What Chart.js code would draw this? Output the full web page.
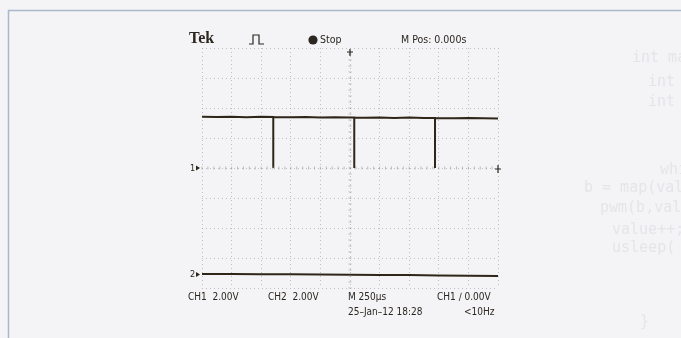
<!DOCTYPE html>
<html>
<head>
<meta charset="utf-8">
<script src="https://cdn.jsdelivr.net/npm/chart.js@4.4.1/dist/chart.umd.min.js"></script>
<style>
  html, body { margin: 0; padding: 0; background: #f4f4f6; }
  #wrap { width: 681px; height: 338px; position: relative; }
</style>
</head>
<body>
<div id="wrap"><canvas id="scope"></canvas></div>
<script>
// scope settings
const voltsPerDiv = [2.0, 2.0];      // CH1, CH2
const usPerDiv = 250;
const ch1Offset = 0;                 // divisions from centre
const ch2Offset = -3.55;

// CH1 trace (time in us, volts)
const ch1Time  = [-1250, -1125, -1000, -875, -750, -648, -648, -648, -500, -375, -250, -125, 0, 36, 36, 36, 125, 250, 375, 500, 625, 718, 718, 718, 875, 1000, 1125, 1250];
const ch1Volts = [3.42, 3.40, 3.42, 3.39, 3.41, 3.40, 0.0, 3.40, 3.38, 3.40, 3.37, 3.39, 3.36, 3.37, 0.0, 3.37, 3.35, 3.37, 3.34, 3.36, 3.33, 3.34, 0.0, 3.34, 3.32, 3.33, 3.31, 3.30];

// CH2 trace
const ch2Time  = [-1250, -1000, -750, -500, -250, 0, 250, 500, 750, 1000, 1250];
const ch2Volts = [0.04, 0.03, 0.02, 0.01, 0.0, -0.01, -0.03, -0.04, -0.06, -0.08, -0.10];

// readout texts
const topLabels = ['Tek', 'Stop', 'M Pos: 0.000s'];
const bottomRow1 = ['CH1  2.00V', 'CH2  2.00V', 'M 250\u00b5s', 'CH1 \u2215 0.00V'];
const bottomRow2 = ['25\u2013Jan\u201312 18:28', '<10Hz'];
const bleedLines = ['int main()', 'int value', 'int b;', 'while(1){', 'b = map(value,', 'pwm(b,value);', 'value++;', 'usleep(', '}'];

const toPoints = (t, v, vpd, off) => t.map((x, i) => ({ x: x, y: v[i] / vpd + off }));

const narrow = '"Liberation Sans Narrow", "DejaVu Sans Condensed", "Arial Narrow", sans-serif';
const ink = '#2b2620';

const scopeDecor = {
    id: 'scopeDecor',
    beforeDraw(chart) {
        const c = chart.ctx;
        c.save();
        c.fillStyle = '#f4f4f6';
        c.fillRect(0, 0, chart.width, chart.height);
        // faint bleed-through text from the other page
        c.fillStyle = 'rgba(170,170,180,0.2)';
        c.font = '15px "DejaVu Sans Mono", monospace';
        const bx = [632, 648, 648, 660, 584, 600, 612, 612, 640];
        const by = [62, 86, 106, 174, 192, 212, 234, 252, 326];
        bleedLines.forEach((s, i) => c.fillText(s, bx[i], by[i]));
        // page frame
        c.strokeStyle = '#a9b9cc';
        c.lineWidth = 1.5;
        c.beginPath();
        c.moveTo(8.5, 338);
        c.lineTo(8.5, 10.5);
        c.lineTo(681, 10.5);
        c.stroke();
        c.restore();
    },
    afterDraw(chart) {
        const c = chart.ctx;
        const a = chart.chartArea;
        const xs = chart.scales.x, ys = chart.scales.y;
        c.save();
        // minor ticks on centre lines
        c.strokeStyle = 'rgba(150,150,155,0.6)';
        c.lineWidth = 1;
        const cx = xs.getPixelForValue(0), cy = ys.getPixelForValue(0);
        c.beginPath();
        for (let d = -5; d <= 5; d += 0.2) {
            const px = xs.getPixelForValue(d * usPerDiv);
            c.moveTo(px, cy - 1.5); c.lineTo(px, cy + 1.5);
        }
        for (let d = -4; d <= 4; d += 0.2) {
            const py = ys.getPixelForValue(d);
            c.moveTo(cx - 1.5, py); c.lineTo(cx + 1.5, py);
        }
        c.stroke();

        c.fillStyle = ink;
        c.strokeStyle = ink;
        c.textBaseline = 'middle';
        // top row
        c.font = 'bold 16px "Liberation Serif", serif';
        c.fillText(topLabels[0], 189, 39);
        c.lineWidth = 1.2;
        c.beginPath();
        c.moveTo(249, 44); c.lineTo(253, 44); c.lineTo(253, 35); c.lineTo(259, 35);
        c.lineTo(259, 44); c.lineTo(264, 44);
        c.stroke();
        c.beginPath();
        c.arc(313, 40, 4.6, 0, Math.PI * 2);
        c.fill();
        c.font = '10.5px ' + narrow;
        c.fillText(topLabels[1], 320, 40);
        c.fillText(topLabels[2], 401, 40);

        // bottom readouts
        c.font = '10px ' + narrow;
        c.fillText(bottomRow1[0], 188, 297);
        c.fillText(bottomRow1[1], 268, 297);
        c.fillText(bottomRow1[2], 348, 297);
        c.fillText(bottomRow1[3], 437, 297);
        c.fillText(bottomRow2[0], 348, 312);
        c.fillText(bottomRow2[1], 464, 312);

        // channel ground markers
        c.font = '9px ' + narrow;
        const m1 = ys.getPixelForValue(ch1Offset), m2 = ys.getPixelForValue(ch2Offset);
        c.fillText('1', 190, m1 + 1);
        c.fillText('2', 190, m2);
        c.beginPath();
        c.moveTo(196, m1 - 2.5); c.lineTo(200, m1); c.lineTo(196, m1 + 2.5); c.closePath();
        c.moveTo(196, m2 - 2.5); c.lineTo(200, m2); c.lineTo(196, m2 + 2.5); c.closePath();
        c.fill();
        // trigger position (top) and trigger level (right)
        c.lineWidth = 1.2;
        c.beginPath();
        c.moveTo(cx, a.top + 1); c.lineTo(cx, a.top + 8);
        c.moveTo(cx - 3, a.top + 4); c.lineTo(cx + 3, a.top + 4);
        c.moveTo(a.right - 3, m1 + 1); c.lineTo(a.right + 3, m1 + 1);
        c.moveTo(a.right, m1 - 3); c.lineTo(a.right, m1 + 5);
        c.stroke();
        c.restore();
    }
};

new Chart(document.getElementById('scope'), {
    type: 'line',
    data: {
        datasets: [{
            label: 'CH1',
            data: toPoints(ch1Time, ch1Volts, voltsPerDiv[0], ch1Offset),
            borderColor: '#2e2618',
            borderWidth: 2,
            pointRadius: 0,
            tension: 0
        }, {
            label: 'CH2',
            data: toPoints(ch2Time, ch2Volts, voltsPerDiv[1], ch2Offset),
            borderColor: '#2e2618',
            borderWidth: 2,
            pointRadius: 0,
            tension: 0
        }]
    },
    options: {
        responsive: true,
        maintainAspectRatio: false,
        animation: false,
        layout: { padding: { left: 202, top: 48, right: 183, bottom: 50 } },
        plugins: { legend: { display: false }, tooltip: { enabled: false } },
        scales: {
            x: {
                type: 'linear',
                min: -5 * usPerDiv,
                max: 5 * usPerDiv,
                ticks: { display: false, stepSize: usPerDiv },
                grid: { color: 'rgba(140,140,145,0.5)', drawTicks: false, lineWidth: 1 },
                border: { display: false, dash: [1, 3] }
            },
            y: {
                type: 'linear',
                min: -4,
                max: 4,
                ticks: { display: false, stepSize: 1 },
                grid: { color: 'rgba(140,140,145,0.5)', drawTicks: false, lineWidth: 1 },
                border: { display: false, dash: [1, 3] }
            }
        }
    },
    plugins: [scopeDecor]
});
</script>
</body>
</html>
